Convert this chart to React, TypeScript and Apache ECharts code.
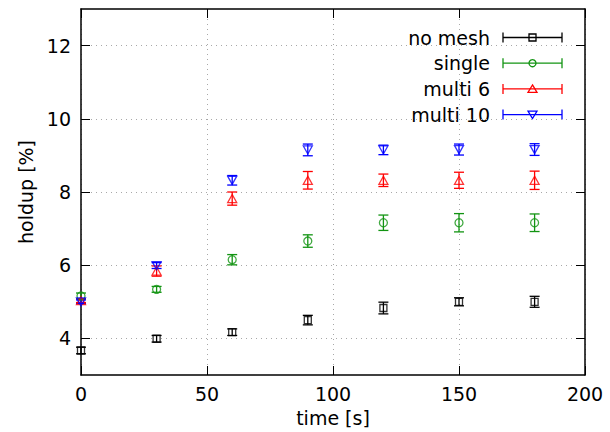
import React, { useEffect, useRef } from "react";
import * as echarts from "echarts";

// Sampling times [s]
const times = [0, 30, 60, 90, 120, 150, 180];

// Mean holdup [%] and its standard error for each configuration
const noMeshMean = [3.67, 3.99, 4.17, 4.5, 4.83, 5.0, 5.0];
const noMeshErr = [0.09, 0.09, 0.09, 0.13, 0.16, 0.11, 0.15];

const singleMean = [5.16, 5.34, 6.15, 6.66, 7.16, 7.16, 7.16];
const singleErr = [0.08, 0.08, 0.14, 0.17, 0.21, 0.25, 0.24];

const multi6Mean = [5.03, 5.84, 7.82, 8.32, 8.32, 8.32, 8.32];
const multi6Err = [0.05, 0.14, 0.18, 0.24, 0.17, 0.22, 0.25];

const multi10Mean = [5.0, 5.99, 8.32, 9.15, 9.15, 9.16, 9.16];
const multi10Err = [0.05, 0.08, 0.13, 0.16, 0.13, 0.15, 0.16];

const xTicks = [0, 50, 100, 150, 200];
const yTicks = [4, 6, 8, 10, 12];

const seriesNames = ["no mesh", "single", "multi 6", "multi 10"];
const seriesMeans = [noMeshMean, singleMean, multi6Mean, multi10Mean];
const seriesErrs = [noMeshErr, singleErr, multi6Err, multi10Err];

const COLORS = ["#000000", "#129412", "#ff0000", "#0000ff"];
const FONT = "DejaVu Sans";
const FONT_SIZE = 19;
const DOWN_TRIANGLE = "path://M0,0 L10,0 L5,8.66 Z";
const UP_TRIANGLE = "path://M5,0 L10,8.66 L0,8.66 Z";
const SYMBOLS = ["rect", "circle", UP_TRIANGLE, DOWN_TRIANGLE];
const SYMBOL_SIZES: any[] = [7, 8, [9, 8], [9, 8]];

const CAP = 5;

function errorBarSeries(i: number) {
  const color = COLORS[i];
  const data = times.map((t, k) => [
    t,
    seriesMeans[i][k] - seriesErrs[i][k],
    seriesMeans[i][k] + seriesErrs[i][k],
  ]);
  return {
    type: "custom",
    name: seriesNames[i] + " error",
    xAxisIndex: 0,
    yAxisIndex: 0,
    data,
    silent: true,
    z: 3,
    renderItem: (_params: any, api: any) => {
      const x = api.value(0);
      const lo = api.coord([x, api.value(1)]);
      const hi = api.coord([x, api.value(2)]);
      const style = { stroke: color, lineWidth: 1.3 };
      return {
        type: "group",
        children: [
          { type: "line", shape: { x1: lo[0], y1: lo[1], x2: hi[0], y2: hi[1] }, style },
          { type: "line", shape: { x1: lo[0] - CAP, y1: lo[1], x2: lo[0] + CAP, y2: lo[1] }, style },
          { type: "line", shape: { x1: hi[0] - CAP, y1: hi[1], x2: hi[0] + CAP, y2: hi[1] }, style },
        ],
      };
    },
  };
}

function markerSeries(i: number) {
  return {
    type: "scatter",
    name: seriesNames[i],
    xAxisIndex: 0,
    yAxisIndex: 0,
    data: times.map((t, k) => [t, seriesMeans[i][k]]),
    symbol: SYMBOLS[i],
    symbolSize: SYMBOL_SIZES[i],
    z: 4,
    itemStyle: { color: "rgba(0,0,0,0)", borderColor: COLORS[i], borderWidth: 1.3 },
  };
}

// Key in the upper right: label, sample error bar and marker
function legendGraphics() {
  const items: any[] = [];
  const textRight = 490;
  const x1 = 503;
  const x2 = 562;
  const xm = (x1 + x2) / 2;
  seriesNames.forEach((name, i) => {
    const y = 37.5 + i * 25.7;
    const color = COLORS[i];
    const stroke = { stroke: color, lineWidth: 1.3 };
    items.push({
      type: "text",
      x: textRight,
      y,
      style: { text: name, fill: "#000", font: `${FONT_SIZE}px "${FONT}"`, align: "right", verticalAlign: "middle" },
    });
    items.push({ type: "line", shape: { x1, y1: y, x2, y2: y }, style: stroke });
    items.push({ type: "line", shape: { x1, y1: y - CAP, x2: x1, y2: y + CAP }, style: stroke });
    items.push({ type: "line", shape: { x1: x2, y1: y - CAP, x2, y2: y + CAP }, style: stroke });
    const mstyle = { fill: "none", stroke: color, lineWidth: 1.3 };
    if (i === 0) {
      items.push({ type: "rect", shape: { x: xm - 3.5, y: y - 3.5, width: 7, height: 7 }, style: mstyle });
    } else if (i === 1) {
      items.push({ type: "circle", shape: { cx: xm, cy: y, r: 3.5 }, style: mstyle });
    } else if (i === 2) {
      items.push({
        type: "polygon",
        shape: { points: [[xm, y - 4], [xm + 4.5, y + 3.5], [xm - 4.5, y + 3.5]] },
        style: mstyle,
      });
    } else {
      items.push({
        type: "polygon",
        shape: { points: [[xm - 4.5, y - 3.5], [xm + 4.5, y - 3.5], [xm, y + 4]] },
        style: mstyle,
      });
    }
  });
  return items;
}

const axisLine = { show: true, onZero: false, lineStyle: { color: "#000", width: 1.5 } };
const tickStyle = { show: true, inside: true, length: 9, lineStyle: { color: "#000", width: 1 } };
const gridLine = { show: true, lineStyle: { color: "#a8a8a8", width: 1, type: [1, 4] as any } };
const labelFont = { fontFamily: FONT, fontSize: FONT_SIZE, color: "#000" };

export default function App() {
  const ref = useRef<HTMLDivElement>(null);

  useEffect(() => {
    if (!ref.current) return;
    const chart = echarts.init(ref.current, null, { renderer: "svg" });
    const series: any[] = [];
    for (let i = 0; i < seriesNames.length; i++) {
      series.push(errorBarSeries(i));
      series.push(markerSeries(i));
    }
    chart.setOption({
      animation: false,
      backgroundColor: "#ffffff",
      grid: { left: 81, right: 25, top: 9, bottom: 56, containLabel: false },
      xAxis: [
        {
          type: "value",
          position: "bottom",
          min: 0,
          max: 200,
          interval: 50,
          axisLine,
          axisTick: tickStyle,
          axisLabel: { ...labelFont, margin: 9, customValues: xTicks },
          splitLine: gridLine,
          name: "time [s]",
          nameLocation: "middle",
          nameGap: 33,
          nameTextStyle: { ...labelFont },
        },
        {
          type: "value",
          position: "top",
          min: 0,
          max: 200,
          interval: 50,
          axisLine,
          axisTick: tickStyle,
          axisLabel: { show: false },
          splitLine: { show: false },
        },
      ],
      yAxis: [
        {
          type: "value",
          position: "left",
          min: 3,
          max: 13,
          axisLine,
          axisTick: { ...tickStyle, customValues: yTicks },
          axisLabel: { ...labelFont, margin: 10, customValues: yTicks },
          splitLine: gridLine,
          name: "holdup [%]",
          nameLocation: "middle",
          nameGap: 34,
          nameTextStyle: { ...labelFont },
        },
        {
          type: "value",
          position: "right",
          min: 3,
          max: 13,
          axisLine,
          axisTick: { ...tickStyle, customValues: yTicks },
          axisLabel: { show: false, customValues: yTicks },
          splitLine: { show: false },
        },
      ],
      graphic: legendGraphics(),
      series,
    });
    return () => chart.dispose();
  }, []);

  return (
    <div
      ref={ref}
      style={{ position: "fixed", left: 0, top: 0, width: 610, height: 432 }}
    />
  );
}
